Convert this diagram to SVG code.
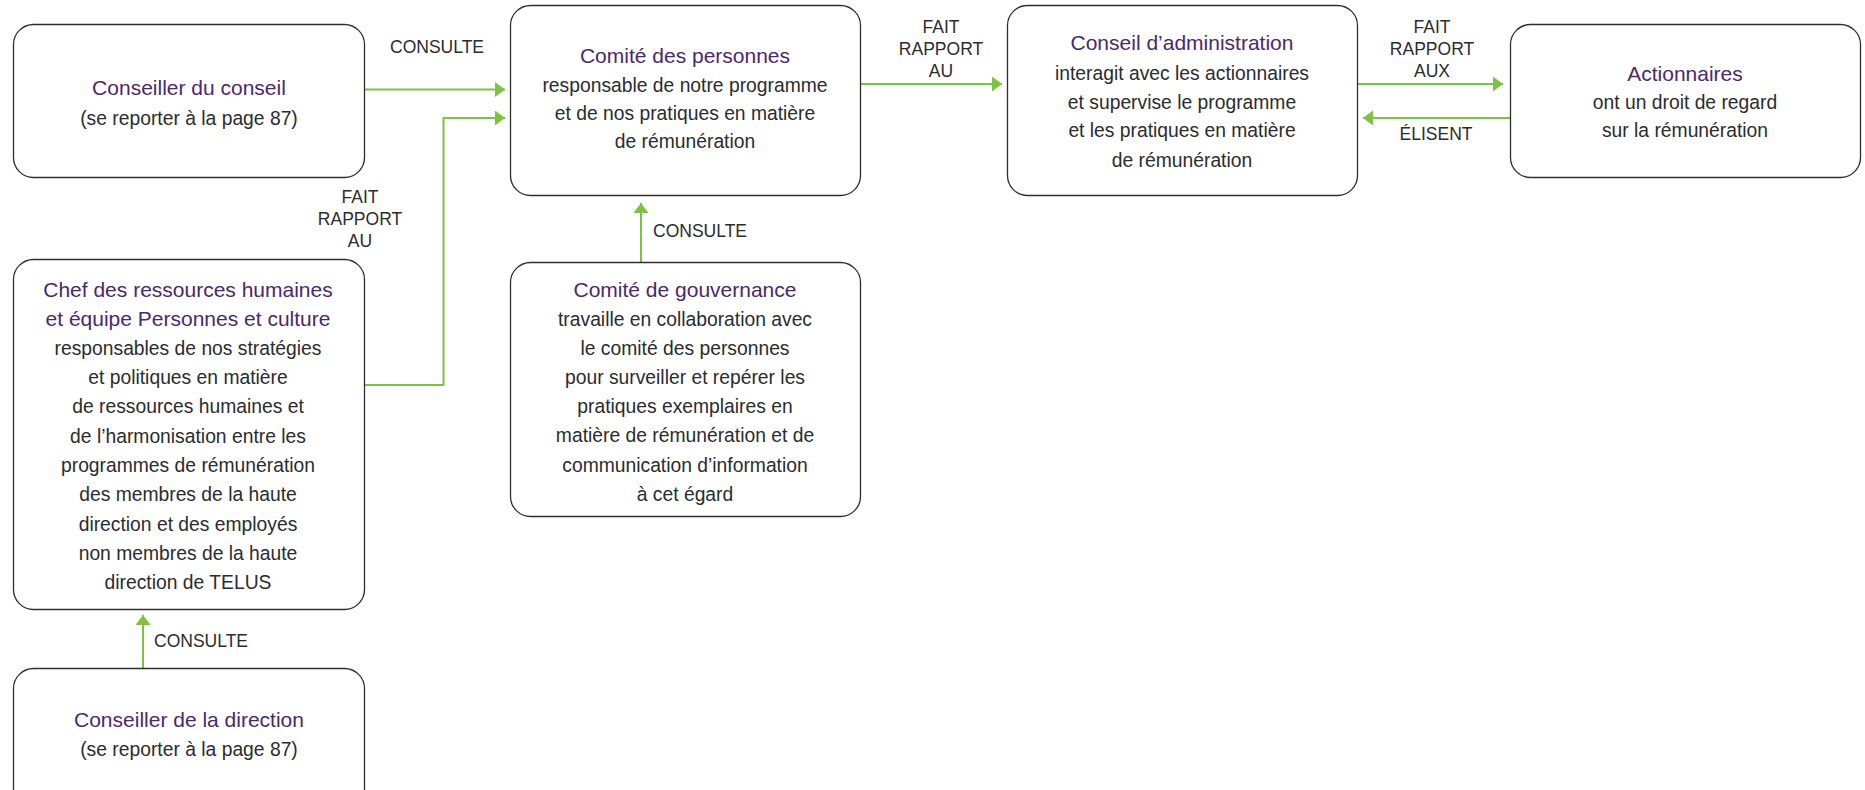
<svg xmlns="http://www.w3.org/2000/svg" width="1865" height="790" viewBox="0 0 1865 790">
<defs>
<style>
.box{fill:#fff;stroke:#2e2e2e;stroke-width:1.3}
.t{font-family:"Liberation Sans",Arial,sans-serif;font-size:21px;fill:#4B286D;text-anchor:middle}
.b{font-family:"Liberation Sans",Arial,sans-serif;font-size:19.3px;fill:#2A2C2E;text-anchor:middle}
.l{font-family:"Liberation Sans",Arial,sans-serif;font-size:17.5px;fill:#2A2C2E;text-anchor:middle}
.c{fill:none;stroke:#7DC242;stroke-width:2}
</style>
<marker id="ah" viewBox="0 0 10 15" refX="10" refY="7.5" markerWidth="10" markerHeight="15" markerUnits="userSpaceOnUse" orient="auto">
<path d="M0,0 L10,7.5 L0,15 Z" fill="#7DC242"/>
</marker>
</defs>
<rect width="1865" height="790" fill="#fff"/>

<g id="connectors">
<path class="c" d="M364,89.5 H505" marker-end="url(#ah)"/>
<path class="c" d="M364,385 H443.5 V118 H505" marker-end="url(#ah)"/>
<path class="c" d="M861,84 H1002" marker-end="url(#ah)"/>
<path class="c" d="M1358,84 H1503" marker-end="url(#ah)"/>
<path class="c" d="M1510,118 H1363" marker-end="url(#ah)"/>
<path class="c" d="M641,262 V203" marker-end="url(#ah)"/>
<path class="c" d="M143,668 V615" marker-end="url(#ah)"/>
<text class="l" x="437" y="53">CONSULTE</text>
<text class="l" x="360" y="203">FAIT</text>
<text class="l" x="360" y="225">RAPPORT</text>
<text class="l" x="360" y="247">AU</text>
<text class="l" x="941" y="33">FAIT</text>
<text class="l" x="941" y="55">RAPPORT</text>
<text class="l" x="941" y="77">AU</text>
<text class="l" x="1432" y="33">FAIT</text>
<text class="l" x="1432" y="55">RAPPORT</text>
<text class="l" x="1432" y="77">AUX</text>
<text class="l" x="1436" y="140">ÉLISENT</text>
<text class="l" x="700" y="237">CONSULTE</text>
<text class="l" x="201" y="647">CONSULTE</text>
</g>

<g id="conseiller-conseil">
<rect class="box" x="13.5" y="24.5" width="351" height="153" rx="20"/>
<text class="t" x="189" y="95">Conseiller du conseil</text>
<text class="b" x="189" y="125">(se reporter à la page 87)</text>
</g>

<g id="comite-personnes">
<rect class="box" x="510.5" y="5.5" width="350" height="190" rx="20"/>
<text class="t" x="685" y="63">Comité des personnes</text>
<text class="b" x="685" y="92">responsable de notre programme</text>
<text class="b" x="685" y="120">et de nos pratiques en matière</text>
<text class="b" x="685" y="148">de rémunération</text>
</g>

<g id="conseil-administration">
<rect class="box" x="1007.5" y="5.5" width="350" height="190" rx="20"/>
<text class="t" x="1182" y="50">Conseil d’administration</text>
<text class="b" x="1182" y="80">interagit avec les actionnaires</text>
<text class="b" x="1182" y="109">et supervise le programme</text>
<text class="b" x="1182" y="137">et les pratiques en matière</text>
<text class="b" x="1182" y="167">de rémunération</text>
</g>

<g id="actionnaires">
<rect class="box" x="1510.5" y="24.5" width="350" height="153" rx="20"/>
<text class="t" x="1685" y="81">Actionnaires</text>
<text class="b" x="1685" y="109">ont un droit de regard</text>
<text class="b" x="1685" y="137">sur la rémunération</text>
</g>

<g id="chef-rh">
<rect class="box" x="13.5" y="259.5" width="351" height="350" rx="20"/>
<text class="t" x="188" y="297">Chef des ressources humaines</text>
<text class="t" x="188" y="326">et équipe Personnes et culture</text>
<text class="b" x="188" y="355">responsables de nos stratégies</text>
<text class="b" x="188" y="384">et politiques en matière</text>
<text class="b" x="188" y="413">de ressources humaines et</text>
<text class="b" x="188" y="443">de l’harmonisation entre les</text>
<text class="b" x="188" y="472">programmes de rémunération</text>
<text class="b" x="188" y="501">des membres de la haute</text>
<text class="b" x="188" y="531">direction et des employés</text>
<text class="b" x="188" y="560">non membres de la haute</text>
<text class="b" x="188" y="589">direction de TELUS</text>
</g>

<g id="comite-gouvernance">
<rect class="box" x="510.5" y="262.5" width="350" height="254" rx="20"/>
<text class="t" x="685" y="297">Comité de gouvernance</text>
<text class="b" x="685" y="326">travaille en collaboration avec</text>
<text class="b" x="685" y="355">le comité des personnes</text>
<text class="b" x="685" y="384">pour surveiller et repérer les</text>
<text class="b" x="685" y="413">pratiques exemplaires en</text>
<text class="b" x="685" y="442">matière de rémunération et de</text>
<text class="b" x="685" y="472">communication d’information</text>
<text class="b" x="685" y="501">à cet égard</text>
</g>

<g id="conseiller-direction">
<rect class="box" x="13.5" y="668.5" width="351" height="140" rx="20"/>
<text class="t" x="189" y="727">Conseiller de la direction</text>
<text class="b" x="189" y="756">(se reporter à la page 87)</text>
</g>
</svg>
